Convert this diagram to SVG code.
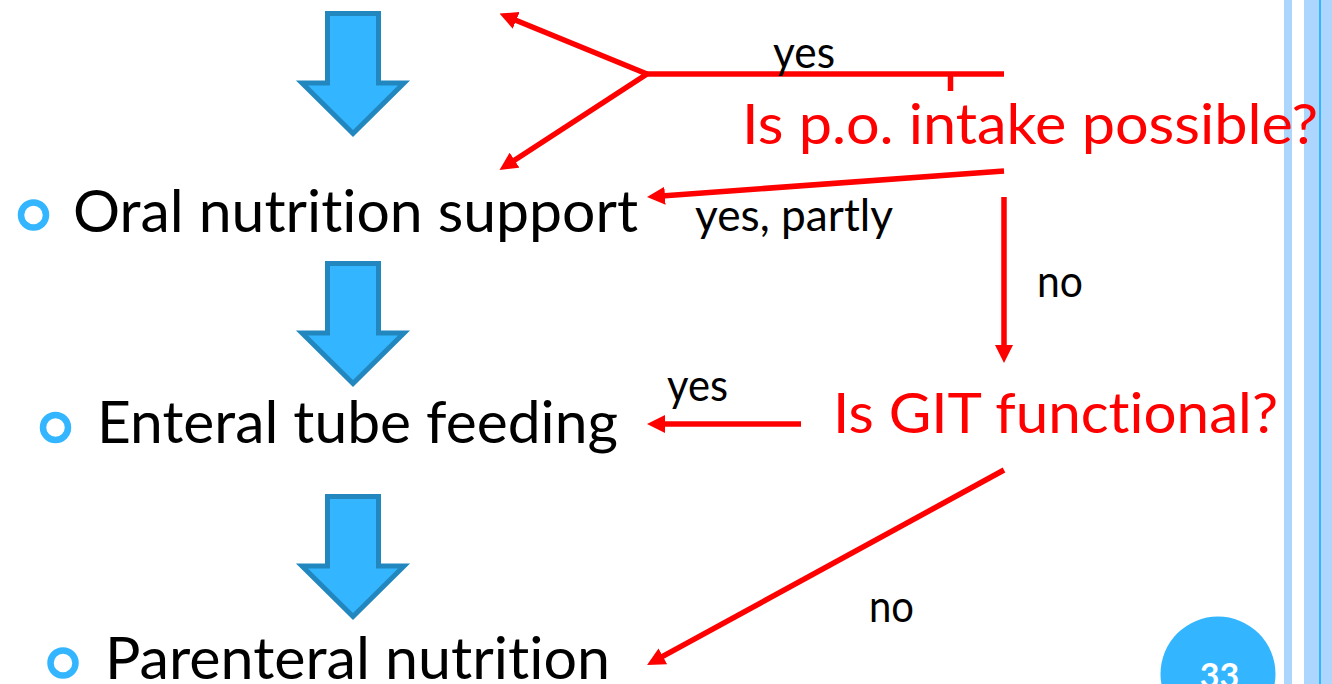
<svg xmlns="http://www.w3.org/2000/svg" width="1332" height="684" viewBox="0 0 1332 684">
  <style>
    text { font-variant-ligatures: none; font-feature-settings: "liga" 0, "clig" 0; }
    .item { font-family: Lato, "Open Sans", "Liberation Sans", sans-serif; font-size: 59px; fill: #000; }
    .question { font-family: Lato, "Open Sans", "Liberation Sans", sans-serif; font-size: 56px; fill: #FF0000; }
    .label { font-family: Lato, "Open Sans", "Liberation Sans", sans-serif; font-size: 45px; fill: #000; }
    .bullet { fill: none; stroke: #33B6FF; stroke-width: 6.5; }
    .flow { fill: #33B6FF; stroke: #2387BF; stroke-width: 5; stroke-linejoin: miter; }
    .link { fill: none; stroke: #FF0000; stroke-width: 5.5; }
    .bar { fill: #ADD6FF; }
  </style>
  <defs>
    <marker id="head" markerUnits="userSpaceOnUse" viewBox="0 0 18 18" refX="7" refY="9" markerWidth="18" markerHeight="18" orient="auto">
      <path d="M0,0 L18,9 L0,18 Z" fill="#FF0000"/>
    </marker>
    <path id="downArrow" class="flow" d="M327.5,13.5 H378.5 V83 H404 L353,133.5 L302,83 H327.5 Z"/>
  </defs>

  <rect width="1332" height="684" fill="#FFFFFF"/>

  <!-- slide edge bars -->
  <g id="edge">
    <rect class="bar" x="1284" y="0" width="8" height="684"/>
    <rect class="bar" x="1304" y="0" width="28" height="684"/>
    <rect x="1319" y="0" width="2" height="684" fill="#33B6FF"/>
  </g>

  <!-- step arrows between options -->
  <g id="steps">
    <use href="#downArrow"/>
    <use href="#downArrow" transform="translate(0,250)"/>
    <use href="#downArrow" transform="translate(0,483)"/>
  </g>

  <g id="oral">
    <circle class="bullet" cx="33.5" cy="215" r="12.5"/>
    <text class="item" x="73" y="232" textLength="565" lengthAdjust="spacingAndGlyphs">Oral nutrition support</text>
  </g>

  <g id="enteral">
    <circle class="bullet" cx="55.5" cy="427.5" r="12.5"/>
    <text class="item" x="97" y="443" textLength="521" lengthAdjust="spacingAndGlyphs">Enteral tube feeding</text>
  </g>

  <g id="parenteral">
    <circle class="bullet" cx="63" cy="663" r="12.5"/>
    <text class="item" x="105" y="679" textLength="505" lengthAdjust="spacingAndGlyphs">Parenteral nutrition</text>
  </g>

  <!-- decision connectors -->
  <g id="connectors">
    <line class="link" x1="647" y1="74" x2="1004" y2="74"/>
    <line class="link" x1="950.5" y1="74" x2="950.5" y2="91"/>
    <line class="link" x1="647" y1="74" x2="509.7" y2="17.7" marker-end="url(#head)"/>
    <line class="link" x1="647" y1="74" x2="508.7" y2="164" marker-end="url(#head)"/>
    <line class="link" x1="1004" y1="171" x2="658" y2="196.2" marker-end="url(#head)"/>
    <line class="link" x1="1004" y1="197" x2="1004" y2="352" marker-end="url(#head)"/>
    <line class="link" x1="801" y1="424" x2="658" y2="424" marker-end="url(#head)"/>
    <line class="link" x1="1004" y1="470" x2="656.7" y2="659.7" marker-end="url(#head)"/>
  </g>

  <g id="q-intake">
    <text class="question" x="742" y="144" textLength="576" lengthAdjust="spacingAndGlyphs">Is p.o. intake possible?</text>
  </g>

  <g id="q-git">
    <text class="question" x="833" y="433" textLength="445" lengthAdjust="spacingAndGlyphs">Is GIT functional?</text>
  </g>

  <g id="labels">
    <text class="label" x="773" y="68" textLength="62" lengthAdjust="spacingAndGlyphs">yes</text>
    <text class="label" x="695" y="231" textLength="198" lengthAdjust="spacingAndGlyphs">yes, partly</text>
    <text class="label" x="1037" y="297" textLength="46" lengthAdjust="spacingAndGlyphs">no</text>
    <text class="label" x="667" y="401" textLength="61" lengthAdjust="spacingAndGlyphs">yes</text>
    <text class="label" x="869" y="622" textLength="45" lengthAdjust="spacingAndGlyphs">no</text>
  </g>

  <!-- slide number -->
  <g id="page">
    <circle cx="1218" cy="674" r="57.5" fill="#33B6FF"/>
    <text x="1219.5" y="688" text-anchor="middle" font-family="Lato, 'Liberation Sans', sans-serif" font-size="34" font-weight="bold" fill="#FFFFFF">33</text>
  </g>
</svg>
